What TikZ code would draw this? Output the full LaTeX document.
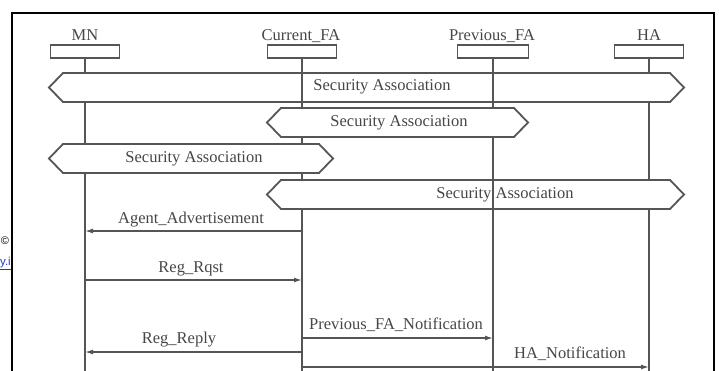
\documentclass[tikz,border=0pt]{standalone}
\usepackage{fontspec}
\setmainfont{Liberation Serif}
\newfontfamily\wmfont{Liberation Sans}
\usetikzlibrary{arrows.meta}
\definecolor{ln}{RGB}{85,85,85}
\definecolor{tx}{RGB}{70,70,70}
\definecolor{lnk}{RGB}{30,60,200}
\tikzset{
  lbl/.style={text=tx,font=\fontsize{16.5}{18}\selectfont,inner sep=0pt},
  headbox/.style={draw=ln,line width=1.5pt,minimum width=69pt,minimum height=13pt,inner sep=0pt,fill=white},
  life/.style={draw=ln,line width=1.4pt},
  hexa/.style={draw=ln,line width=1.8pt,fill=white,line join=miter},
  msg/.style={draw=ln,line width=1.4pt,-{Latex[length=8pt,width=5pt]}}
}
\begin{document}
\begin{tikzpicture}[x=1pt,y=-1pt]
\useasboundingbox (0,0) rectangle (719,371);
% watermark fragments
\node[font=\wmfont\fontsize{11}{12}\selectfont,text=black,inner sep=0pt] (wm1) at (5,241) {©};
\node[font=\wmfont\fontsize{11.5}{12}\selectfont,text=lnk,inner sep=0pt,anchor=base east] (wm2) at (11,265) {\underline{y.i}};
% frame
\draw[black,line width=2.2pt] (12,13) rectangle (714,390);
% heads
\node[headbox] (mn) at (85,51.5) {};
\node[headbox] (cfa) at (302,51.5) {};
\node[headbox,minimum width=71pt] (pfa) at (493,51.5) {};
\node[headbox] (ha) at (649,51.5) {};
\node[lbl,anchor=base] (mnL) at (85,41) {MN};
\node[lbl,anchor=base] (cfaL) at (301,41) {Current\_FA};
\node[lbl,anchor=base] (pfaL) at (492,41) {Previous\_FA};
\node[lbl,anchor=base] (haL) at (649,41) {HA};
% lifeline ends
\coordinate (mnE) at (85,390);
\coordinate (cfaE) at (302,390);
\coordinate (pfaE) at (493,390);
\coordinate (haE) at (649,390);
\draw[life] (mn.south) -- (mnE);
\draw[life] (cfa.south) -- (cfaE);
\draw[life] (pfa.south) -- (pfaE);
\draw[life] (ha.south) -- (haE);
% security associations
\draw[hexa] (49,87.5) -- (63,73) -- (670,73) -- (684,87.5) -- (670,102) -- (63,102) -- cycle;
\draw[life] (302,73) -- (302,102);
\draw[life] (493,73) -- (493,102);
\node[lbl,anchor=base] (sa1) at (382,91) {Security Association};
\draw[hexa] (267,122.5) -- (281,108) -- (514,108) -- (528,122.5) -- (514,137) -- (281,137) -- cycle;
\node[lbl,anchor=base] (sa2) at (399,126.5) {Security Association};
\draw[hexa] (49,158.5) -- (63,144) -- (319,144) -- (333,158.5) -- (319,173) -- (63,173) -- cycle;
\node[lbl,anchor=base] (sa3) at (194,162.5) {Security Association};
\draw[hexa] (267,194.5) -- (281,180) -- (670,180) -- (684,194.5) -- (670,209) -- (281,209) -- cycle;
\draw[life] (493,180) -- (493,209);
\node[lbl,anchor=base] (sa4) at (505,198.5) {Security Association};
% messages
\draw[msg] (cfa |- 0,231) -- (mn |- 0,231);
\node[lbl,anchor=base] (m1) at (191,223) {Agent\_Advertisement};
\draw[msg] (mn |- 0,280) -- (cfa |- 0,280);
\node[lbl,anchor=base] (m2) at (191,272.5) {Reg\_Rqst};
\draw[msg] (cfa |- 0,338) -- (pfa |- 0,338);
\node[lbl,anchor=base] (m3) at (396,329.5) {Previous\_FA\_Notification};
\draw[msg] (cfa |- 0,352) -- (mn |- 0,352);
\node[lbl,anchor=base] (m4) at (179,343.5) {Reg\_Reply};
\draw[msg] (cfa |- 0,367) -- (ha |- 0,367);
\node[lbl,anchor=base] (m5) at (570,358.5) {HA\_Notification};
\end{tikzpicture}
\end{document}
